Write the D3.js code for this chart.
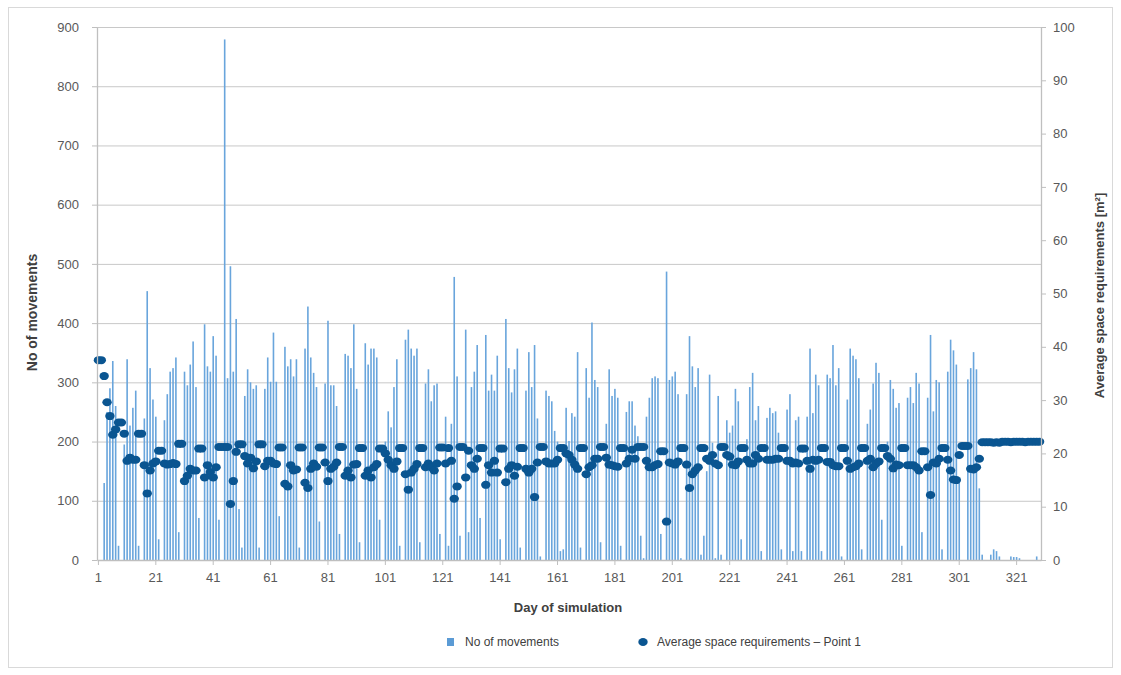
<!DOCTYPE html>
<html>
<head>
<meta charset="utf-8">
<script src="https://cdn.jsdelivr.net/npm/d3@7"></script>
<style>
  body { margin: 0; background: #fff; }
  text { font-family: "Liberation Sans", Arial, sans-serif; }
</style>
</head>
<body>
<svg id="chart" width="1121" height="675"></svg>
<script>
// No of movements per day (rows = weeks: 5 working days, Sat, Sun)
const movements = [
  0, 0,
  130, 250, 290, 336, 260, 24, 0,
  195, 339, 227, 257, 286, 24, 0,
  239, 454, 324, 271, 242, 35, 0,
  236, 280, 318, 324, 342, 47, 0,
  318, 295, 330, 369, 292, 71, 0,
  398, 327, 318, 378, 345, 68, 0,
  879, 307, 496, 318, 407, 86, 21,
  277, 322, 300, 289, 295, 21, 0,
  289, 342, 301, 384, 301, 74, 0,
  360, 327, 339, 310, 339, 21, 0,
  357, 428, 342, 316, 292, 65, 0,
  298, 404, 295, 295, 260, 44, 0,
  348, 345, 324, 398, 289, 30, 0,
  366, 330, 357, 357, 342, 68, 0,
  200, 251, 224, 292, 339, 24, 0,
  372, 389, 357, 345, 357, 30, 0,
  298, 322, 268, 295, 298, 44, 0,
  242, 24, 230, 478, 310, 41, 0,
  389, 47, 292, 318, 363, 71, 0,
  380, 286, 313, 286, 345, 35, 0,
  407, 324, 283, 322, 357, 21, 0,
  286, 351, 292, 363, 239, 6, 0,
  286, 277, 268, 218, 200, 15, 18,
  257, 201, 248, 242, 351, 21, 0,
  324, 274, 401, 304, 292, 30, 0,
  230, 322, 277, 289, 274, 24, 0,
  250, 268, 268, 227, 209, 41, 3,
  242, 274, 307, 310, 307, 44, 0,
  487, 304, 310, 318, 280, 3, 0,
  280, 378, 327, 292, 324, 9, 41,
  150, 313, 198, 3, 277, 9, 0,
  236, 215, 227, 289, 268, 35, 0,
  204, 292, 316, 236, 260, 15, 0,
  240, 257, 248, 251, 215, 18, 0,
  254, 280, 15, 236, 242, 15, 0,
  242, 357, 248, 313, 295, 15, 0,
  313, 307, 363, 295, 324, 6, 0,
  271, 357, 345, 339, 307, 18, 0,
  230, 254, 298, 333, 316, 68, 0,
  200, 304, 289, 257, 265, 24, 0,
  274, 292, 265, 316, 298, 47, 0,
  274, 380, 251, 304, 300, 18, 0,
  318, 372, 354, 330, 130, 0, 0,
  305, 324, 351, 322, 121, 9, 0,
  0, 9, 18, 15, 6, 0, 0,
  0, 6, 5, 5, 3, 0, 0,
  0, 0, 0, 6, 0
];

// Average space requirements - Point 1 [m2]
const spaceReq = [
  37.5, 37.5,
  34.5, 29.6, 27, 23.5, 24.5, 25.8, 25.8,
  23.7, 18.6, 19.2, 18.8, 18.8, 23.7, 23.7,
  17.8, 12.5, 16.8, 18.1, 18.5, 20.5, 20.5,
  18.1, 17.9, 18, 18.2, 18, 21.8, 21.8,
  14.8, 15.8, 17.1, 16.8, 16.8, 20.9, 20.9,
  15.5, 17.8, 16.5, 15.5, 17.4, 21.2, 21.2,
  21.2, 21.2, 10.5, 14.8, 20.3, 21.7, 21.7,
  19.5, 18.1, 19.2, 17.2, 18.5, 21.7, 21.7,
  17.6, 18.6, 18.6, 18.1, 18, 21.1, 21.1,
  14.3, 13.8, 17.8, 16.8, 17, 21.1, 21.1,
  14.5, 13.5, 17.1, 18.1, 17.5, 21.1, 21.1,
  18.3, 14.8, 17.1, 17.5, 18.3, 21.2, 21.2,
  15.8, 16.8, 15.5, 17.9, 18, 21, 21,
  15.8, 16.8, 15.5, 17.4, 18, 20.9, 20.9,
  20, 18.8, 17.8, 17.1, 18.5, 21, 21,
  16.1, 13.2, 16.4, 17.1, 18, 21, 21,
  17.4, 18.1, 17.4, 16.8, 18.1, 21.1, 21.1,
  18.1, 21, 18.6, 11.5, 13.8, 21.2, 21.2,
  15.5, 20.5, 17.8, 17.1, 19, 21, 21,
  14.1, 17.8, 16.4, 18.6, 16.4, 20.9, 20.9,
  14.6, 17.1, 17.8, 15.8, 17.5, 21, 21,
  17.1, 16.4, 17.1, 11.8, 18.3, 21.2, 21.2,
  18.5, 18.1, 18.1, 18.1, 18.8, 21, 21,
  20, 19.7, 18.8, 17.9, 17.1, 21, 21,
  16.1, 17.4, 17.8, 19, 19, 21.2, 21.2,
  19.2, 17.9, 17.8, 17.6, 17.5, 21, 21,
  18.1, 19, 20.7, 19, 21.2, 21.2, 21.2,
  18.6, 17.4, 17.4, 17.8, 18, 20.4, 20.4,
  7.2, 18.3, 18.1, 17.9, 18.5, 21, 21,
  17.9, 13.5, 16.1, 16.8, 17.4, 21, 21,
  19, 18.6, 19.7, 18.1, 17.8, 21.2, 21.2,
  19.7, 19.4, 17.9, 17.8, 18.5, 21, 21,
  18.8, 18.1, 18.1, 19.7, 19, 21, 21,
  18.8, 18.8, 18.8, 19, 19, 21, 21,
  18.6, 18.6, 18.1, 18.3, 18.1, 20.9, 20.9,
  18.6, 17.1, 18.8, 18.6, 18.8, 21, 21,
  18.4, 18.4, 17.8, 17.6, 17.6, 21, 21,
  18.6, 17.1, 17.4, 17.6, 18.1, 21, 21,
  18.6, 19, 17.4, 18.1, 18.5, 21, 21,
  19.5, 19, 17.2, 17.9, 17.8, 21, 21,
  17.8, 17.8, 17.8, 17.4, 16.8, 20.4, 20.4,
  17.4, 12.2, 18.3, 18.1, 19, 21, 21,
  18.8, 16.8, 15.1, 15, 19.7, 21.4, 21.4,
  21.4, 17.1, 17, 17.4, 19, 22.1, 22.1,
  22.1, 22.1, 22.0, 22.1, 22.0, 22.2, 22.2,
  22.2, 22.1, 22.2, 22.2, 22.2, 22.2, 22.1,
  22.2, 22.2, 22.2, 22.2, 22.2
];

const days = movements.map((d, i) => i + 1);
const dayTicks = [1, 21, 41, 61, 81, 101, 121, 141, 161, 181, 201, 221, 241, 261, 281, 301, 321];
const leftTicks = [0, 100, 200, 300, 400, 500, 600, 700, 800, 900];
const rightTicks = [0, 10, 20, 30, 40, 50, 60, 70, 80, 90, 100];

// plot area
const plotLeft = 97, plotRight = 1041, plotTop = 27, plotBottom = 560;

const svg = d3.select("#chart");

// outer chart border
svg.append("rect")
    .attr("x", 8.5).attr("y", 7.5)
    .attr("width", 1104).attr("height", 660)
    .attr("fill", "none")
    .attr("stroke", "#d9d9d9");

const x = d3.scaleBand().domain(days).range([plotLeft, plotRight]).padding(0);
const yLeft = d3.scaleLinear().domain([0, 900]).range([plotBottom, plotTop]);
const yRight = d3.scaleLinear().domain([0, 100]).range([plotBottom, plotTop]);

// gridlines
svg.append("g")
  .selectAll("line")
  .data(leftTicks.slice(1))
  .join("line")
    .attr("x1", plotLeft).attr("x2", plotRight)
    .attr("y1", d => yLeft(d) + 0.5).attr("y2", d => yLeft(d) + 0.5)
    .attr("stroke", "#c8c8c8");

// bars
const barW = 1.6;
svg.append("g")
  .selectAll("rect")
  .data(days)
  .join("rect")
    .attr("x", d => x(d) + x.bandwidth() / 2 - barW / 2)
    .attr("y", d => yLeft(movements[d - 1]))
    .attr("width", barW)
    .attr("height", d => plotBottom - yLeft(movements[d - 1]))
    .attr("fill", "#69a5dc");

// points
svg.append("g")
  .selectAll("ellipse")
  .data(days)
  .join("ellipse")
    .attr("cx", d => x(d) + x.bandwidth() / 2)
    .attr("cy", d => yRight(spaceReq[d - 1]))
    .attr("rx", 4.7)
    .attr("ry", 4)
    .attr("fill", "#0a5591");

// axes
const axisColor = "#bfbfbf";
const tickColor = "#595959";

const xAxis = svg.append("g")
    .attr("transform", `translate(0,${plotBottom})`)
    .call(d3.axisBottom(x).tickValues(dayTicks).tickSize(5).tickSizeOuter(0));
const yAxisL = svg.append("g")
    .attr("transform", `translate(${plotLeft},0)`)
    .call(d3.axisLeft(yLeft).tickValues(leftTicks).tickSize(5).tickSizeOuter(0).tickPadding(13));
const yAxisR = svg.append("g")
    .attr("transform", `translate(${plotRight},0)`)
    .call(d3.axisRight(yRight).tickValues(rightTicks).tickSize(5).tickSizeOuter(0).tickPadding(7));

[xAxis, yAxisL, yAxisR].forEach(g => {
  g.select(".domain").attr("stroke", axisColor).attr("stroke-width", 1.3);
  g.selectAll(".tick line").attr("stroke", axisColor);
  g.selectAll(".tick text")
    .attr("fill", tickColor)
    .style("font-size", "13px");
});
xAxis.selectAll(".tick text").attr("dy", "1.05em");

// axis titles
svg.append("text")
    .attr("transform", `translate(37,${(plotTop + plotBottom) / 2 + 19}) rotate(-90)`)
    .attr("text-anchor", "middle")
    .attr("fill", "#404040")
    .style("font-size", "14px")
    .style("font-weight", "bold")
    .text("No of movements");

svg.append("text")
    .attr("transform", `translate(1104,${(plotTop + plotBottom) / 2 + 2}) rotate(-90)`)
    .attr("text-anchor", "middle")
    .attr("fill", "#404040")
    .style("font-size", "13px")
    .style("font-weight", "bold")
    .text("Average space requirements [m²]");

svg.append("text")
    .attr("x", 568).attr("y", 612)
    .attr("text-anchor", "middle")
    .attr("fill", "#404040")
    .style("font-size", "13px")
    .style("font-weight", "bold")
    .text("Day of simulation");

// legend
const legend = svg.append("g").attr("transform", "translate(0,642)");
legend.append("rect")
    .attr("x", 447).attr("y", -4)
    .attr("width", 7).attr("height", 8)
    .attr("fill", "#5b9bd5");
legend.append("text")
    .attr("x", 465).attr("y", 4)
    .attr("fill", "#404040")
    .style("font-size", "12px")
    .text("No of movements");
legend.append("ellipse")
    .attr("cx", 643).attr("cy", 0)
    .attr("rx", 4.7).attr("ry", 4)
    .attr("fill", "#0a5591");
legend.append("text")
    .attr("x", 657).attr("y", 4)
    .attr("fill", "#404040")
    .style("font-size", "12px")
    .text("Average space requirements – Point 1");
</script>
</body>
</html>
